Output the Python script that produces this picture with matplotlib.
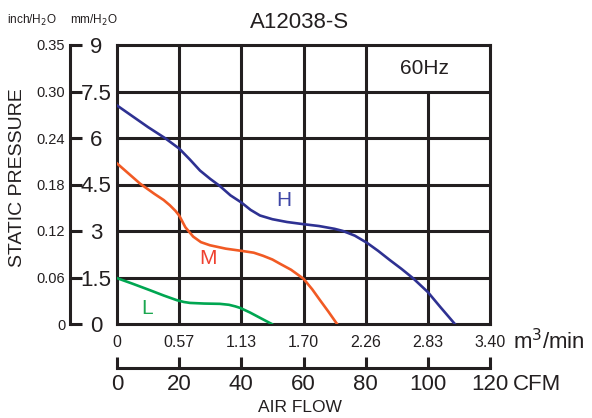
import matplotlib
matplotlib.use("Agg")
import matplotlib.pyplot as plt

plt.rcParams['font.family'] = ['Liberation Sans', 'DejaVu Sans']

# curve data: air flow (CFM) vs static pressure (mmH2O)
h_cfm = [0, 5, 10, 15.4, 20, 23.5, 26.7, 30, 33.1, 36.5, 40, 43, 46, 50, 54.7, 60, 65, 70, 72.7, 76.5, 80.4, 84, 87.8, 91.5, 95.2, 100, 104, 108.7]
h_mm = [7.05, 6.7, 6.35, 6.0, 5.66, 5.3, 4.95, 4.68, 4.45, 4.15, 3.92, 3.68, 3.5, 3.38, 3.29, 3.22, 3.16, 3.07, 3.0, 2.85, 2.62, 2.36, 2.06, 1.78, 1.48, 1.03, 0.55, 0]
m_cfm = [0, 7.4, 12, 15, 17, 18.8, 20, 22, 24.5, 27, 29.9, 35, 40, 44, 47, 50, 52.5, 56, 60, 62.8, 65.3, 68, 70.8]
m_mm = [5.18, 4.53, 4.2, 4.0, 3.83, 3.65, 3.5, 3.12, 2.82, 2.64, 2.54, 2.43, 2.36, 2.3, 2.2, 2.08, 1.94, 1.75, 1.46, 1.12, 0.77, 0.4, 0]
l_cfm = [0, 5, 10.6, 15, 19.2, 21.5, 23.5, 28, 33.1, 36, 38, 39.6, 42.8, 46, 49.8]
l_mm = [1.48, 1.3, 1.09, 0.92, 0.77, 0.71, 0.68, 0.66, 0.65, 0.62, 0.57, 0.52, 0.37, 0.2, 0]

cfm_ticks = [0, 20, 40, 60, 80, 100, 120]
m3_labels = ['0', '0.57', '1.13', '1.70', '2.26', '2.83', '3.40']
mm_ticks = [0, 1.5, 3, 4.5, 6, 7.5, 9]
mm_labels = ['0', '1.5', '3', '4.5', '6', '7.5', '9']
inch_labels = ['0', '0.06', '0.12', '0.18', '0.24', '0.30', '0.35']

W, H = 592, 418
fig = plt.figure(figsize=(W / 100, H / 100), dpi=100)

# plot box in pixels
x0, x1, y0, y1 = 117, 490, 45, 324
b = (H - y1) / H
h = (y1 - y0) / H
ax = fig.add_axes([x0 / W, b, (x1 - x0) / W, h])
ax.set_xlim(0, 120)
ax.set_ylim(0, 9)
for s in ax.spines.values():
    s.set_linewidth(2.2)
    s.set_color('#231f20')

# grid (top row has no line at 100 CFM because of the 60Hz box)
ax.vlines(cfm_ticks[1:5], 0, 9, color='#231f20', lw=2.2)
ax.vlines(cfm_ticks[5], 0, 7.5, color='#231f20', lw=2.2)
ax.hlines(mm_ticks[1:6], 0, 120, color='#231f20', lw=2.2)

ax.plot(h_cfm, h_mm, color='#2e3192', lw=1.9, zorder=3)
ax.plot(m_cfm, m_mm, color='#f15a24', lw=1.9, zorder=3)
ax.plot(l_cfm, l_mm, color='#00a651', lw=1.9, zorder=3)

ax.text(53.7, 4.0, 'H', color='#3f47a6', fontsize=15, ha='center', va='center')
ax.text(29.3, 2.12, 'M', color='#ef4130', fontsize=15, ha='center', va='center')
ax.text(9.65, 0.51, 'L', color='#1ba750', fontsize=15, ha='center', va='center')
ax.text(99, 8.23, '60Hz', color='#231f20', fontsize=15, ha='center', va='center')

# m3/min labels under the plot box
ax.set_xticks(cfm_ticks)
ax.set_xticklabels(m3_labels, fontsize=11.5, color='#231f20')
ax.tick_params(axis='x', length=0, pad=8)
ax.set_yticks([])

# CFM axis
axc = fig.add_axes([x0 / W, (H - 368) / H, (x1 - x0) / W, 0.0001])
axc.set_xlim(0, 120)
for k in ['top', 'left', 'right']:
    axc.spines[k].set_visible(False)
axc.spines['bottom'].set_linewidth(2.2)
axc.spines['bottom'].set_color('#231f20')
axc.set_yticks([])
axc.set_xticks(cfm_ticks)
axc.set_xticklabels([str(v) for v in cfm_ticks], fontsize=16, color='#231f20')
axc.tick_params(axis='x', direction='in', length=8, width=2.2, pad=4, color='#231f20')

# pressure axis: inch labels left, mm labels right
axl = fig.add_axes([70 / W, b, 12 / W, h])
axl.set_ylim(0, 9)
for k in ['top', 'bottom', 'right']:
    axl.spines[k].set_visible(False)
axl.spines['left'].set_linewidth(2.2)
axl.spines['left'].set_color('#231f20')
axl.set_xticks([])
axl.set_yticks(mm_ticks)
axl.set_yticklabels(inch_labels, fontsize=10.5, color='#231f20')
axl.tick_params(axis='y', direction='in', length=8.5, width=2.2, pad=3.5, color='#231f20')
axl.patch.set_alpha(0)

axr = axl.twinx()
axr.set_ylim(0, 9)
for s in axr.spines.values():
    s.set_visible(False)
axr.set_yticks(mm_ticks)
axr.set_yticklabels(mm_labels, fontsize=16, color='#231f20', ha='center')
axr.tick_params(axis='y', length=0, pad=10)

fig.text(300 / W, 1 - 22 / H, 'A12038-S', fontsize=16, ha='center', va='center', color='#231f20')
fig.text(32 / W, 1 - 20 / H, 'inch/H$_2$O', fontsize=8.5, ha='center', va='center', color='#231f20')
fig.text(94 / W, 1 - 20 / H, 'mm/H$_2$O', fontsize=8.5, ha='center', va='center', color='#231f20')
fig.text(18 / W, 1 - 178 / H, 'STATIC PRESSURE', fontsize=14, rotation=90, ha='center', va='center', color='#231f20')
fig.text(300 / W, 1 - 408 / H, 'AIR FLOW', fontsize=12.5, ha='center', va='center', color='#231f20')
fig.text(513 / W, 1 - 342 / H, 'm$^3$/min', fontsize=16, ha='left', va='center', color='#231f20')
fig.text(513 / W, 1 - 384 / H, 'CFM', fontsize=16, ha='left', va='center', color='#231f20')

fig.savefig('out.png', dpi=100)
